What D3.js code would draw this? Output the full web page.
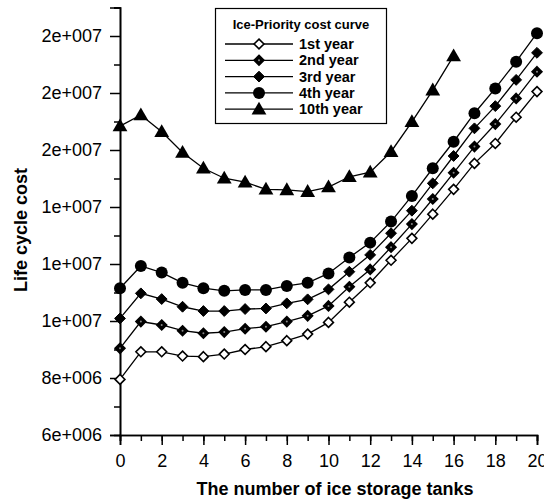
<!DOCTYPE html>
<html><head><meta charset="utf-8">
<script src="https://cdn.jsdelivr.net/npm/d3@7"></script>
<style>body{margin:0;background:#fff}svg{display:block}text{font-family:"Liberation Sans",Arial,sans-serif}</style>
</head><body><svg id="c" width="544" height="500"></svg>
<script>
const tanks = d3.range(0, 21);
const year1 = [7.95e6,8.92e6,8.92e6,8.77e6,8.75e6,8.84e6,9.0e6,9.1e6,9.31e6,9.54e6,9.95e6,10.66e6,11.34e6,12.13e6,12.9e6,13.75e6,14.62e6,15.53e6,16.23e6,17.15e6,18.05e6];
const year2 = [9.04e6,9.98e6,9.86e6,9.66e6,9.57e6,9.61e6,9.73e6,9.8e6,9.98e6,10.18e6,10.53e6,11.2e6,11.81e6,12.59e6,13.4e6,14.28e6,15.2e6,16.12e6,16.91e6,17.81e6,18.75e6];
const year3 = [10.09e6,10.97e6,10.77e6,10.5e6,10.35e6,10.35e6,10.42e6,10.44e6,10.62e6,10.76e6,11.11e6,11.73e6,12.32e6,13.08e6,13.87e6,14.83e6,15.79e6,16.76e6,17.54e6,18.46e6,19.41e6];
const year4 = [11.15e6,11.93e6,11.7e6,11.34e6,11.15e6,11.06e6,11.09e6,11.09e6,11.23e6,11.34e6,11.67e6,12.23e6,12.75e6,13.49e6,14.39e6,15.36e6,16.29e6,17.29e6,18.16e6,19.1e6,20.1e6];
const year10 = [16.84e6,17.23e6,16.64e6,15.91e6,15.36e6,15.01e6,14.87e6,14.62e6,14.6e6,14.54e6,14.7e6,15.06e6,15.22e6,15.94e6,16.99e6,18.1e6,19.3e6];
const seriesNames = ["1st year","2nd year","3rd year","4th year","10th year"];
const xTickValues = [0,2,4,6,8,10,12,14,16,18,20];
const yTickValues = [6e6,8e6,1e7,1.2e7,1.4e7,1.6e7,1.8e7,2e7];
const yTickLabels = ["6e+006","8e+006","1e+007","1e+007","1e+007","2e+007","2e+007","2e+007"];
const legendTitle = "Ice-Priority cost curve";
const xTitle = "The number of ice storage tanks";
const yTitle = "Life cycle cost";

const svg = d3.select("#c");
const x = d3.scaleLinear().domain([0,20]).range([120,537]);
const y = d3.scaleLinear().domain([6e6,2.1e7]).range([435,7.5]);

const xMinor = d3.axisBottom(x).tickValues(d3.range(0,21)).tickSize(6).tickFormat("");
const xMajor = d3.axisBottom(x).tickValues(xTickValues).tickSize(10).tickPadding(9).tickFormat(d3.format("d"));
const yMinor = d3.axisLeft(y).tickValues(d3.range(7e6,2.2e7,2e6)).tickSize(6).tickFormat("");
const yMajor = d3.axisLeft(y).tickValues(yTickValues).tickSize(10).tickPadding(8).tickFormat((d,i)=>yTickLabels[i]);
function style(g){
  g.select(".domain").attr("stroke","#000").attr("stroke-width",1.6);
  g.selectAll(".tick line").attr("stroke","#000").attr("stroke-width",1.5);
  g.selectAll(".tick text").attr("font-size",18).attr("fill","#000").attr("font-family","Liberation Sans, Arial, sans-serif");
}
svg.append("g").attr("transform","translate(0,435)").call(xMinor).call(style);
svg.append("g").attr("transform","translate(0,435)").call(xMajor).call(style);
svg.append("g").attr("transform","translate(120,0)").call(yMinor).call(style);
svg.append("g").attr("transform","translate(120,0)").call(yMajor).call(style);

svg.append("text").attr("x",335).attr("y",495).attr("text-anchor","middle")
  .attr("font-size",18).attr("font-weight","bold").text(xTitle);
svg.append("text").attr("transform","translate(27,230) rotate(-90)").attr("text-anchor","middle")
  .attr("font-size",18).attr("font-weight","bold").text(yTitle);

const all = [year1,year2,year3,year4,year10];
const line = d3.line().x((d,i)=>x(tanks[i])).y(d=>y(d));

function drawMarker(g, type, cx, cy){
  if(type===0){
    g.append("path").attr("d",d3.symbol(d3.symbolDiamond2, 62)()).attr("transform",`translate(${cx},${cy})`)
      .attr("fill","#fff").attr("stroke","#000").attr("stroke-width",1.6);
  } else if(type===1){
    g.append("path").attr("d",d3.symbol(d3.symbolDiamond2, 62)()).attr("transform",`translate(${cx},${cy})`)
      .attr("fill","#000").attr("stroke","#000").attr("stroke-width",1.6);
    g.append("circle").attr("cx",cx).attr("cy",cy).attr("r",1).attr("fill","#888");
  } else if(type===2){
    g.append("path").attr("d",d3.symbol(d3.symbolDiamond2, 75)()).attr("transform",`translate(${cx},${cy})`)
      .attr("fill","#000").attr("stroke","#000").attr("stroke-width",1);
  } else if(type===3){
    g.append("circle").attr("cx",cx).attr("cy",cy).attr("r",6).attr("fill","#000");
  } else {
    g.append("path").attr("d",d3.symbol(d3.symbolTriangle, 95)()).attr("transform",`translate(${cx},${cy+1})`)
      .attr("fill","#000");
  }
}

all.forEach((s,k)=>{
  const g = svg.append("g");
  g.append("path").attr("d",line(s)).attr("fill","none").attr("stroke","#000").attr("stroke-width",1.3);
  s.forEach((v,i)=>drawMarker(g,k,x(tanks[i]),y(v)));
});

const lg = svg.append("g");
lg.append("rect").attr("x",215.5).attr("y",8.5).attr("width",171).attr("height",115)
  .attr("fill","#fff").attr("stroke","#000").attr("stroke-width",1.2);
lg.append("text").attr("x",301).attr("y",29).attr("text-anchor","middle")
  .attr("font-size",13).attr("font-weight","bold").text(legendTitle);
seriesNames.forEach((n,k)=>{
  const ly = 44 + 16.3*k;
  lg.append("line").attr("x1",225).attr("x2",293).attr("y1",ly).attr("y2",ly).attr("stroke","#000").attr("stroke-width",1.3);
  drawMarker(lg,k,259,ly);
  lg.append("text").attr("x",299).attr("y",ly+5).attr("font-size",14.5).attr("font-weight","bold").text(n);
});
</script></body></html>
